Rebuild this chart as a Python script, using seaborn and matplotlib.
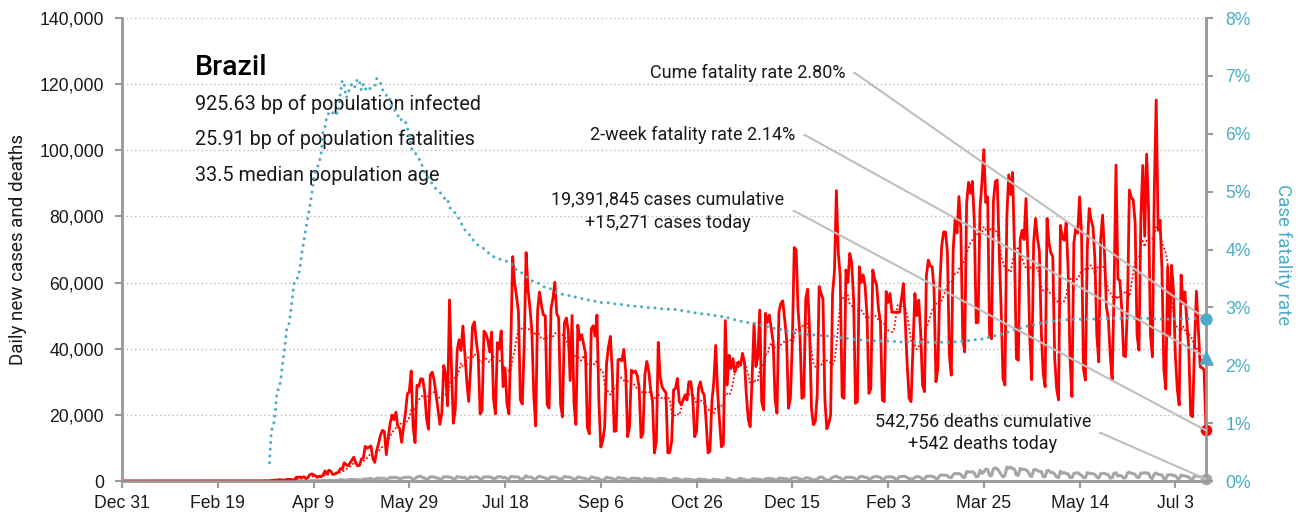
import numpy as np
import pandas as pd
import matplotlib
matplotlib.use("Agg")
import matplotlib.pyplot as plt
import matplotlib.dates as mdates
from matplotlib.ticker import FuncFormatter, MultipleLocator
import seaborn as sns

# ---------------------------------------------------------------- data
country = "Brazil"
stat_lines = [
    "925.63 bp of population infected",
    "25.91 bp of population fatalities",
    "33.5 median population age",
]
first_day = "2019-12-31"
tick_step_days = 50

total_cases = 19391845
cases_today = 15271
total_deaths = 542756
deaths_today = 542
cume_cfr_pct = 2.80
two_week_cfr_pct = 2.14

# daily new cases, Dec 31 2019 .. Feb 29 2020
cases_pre_march = """
0
0 0 0 0 0 0 0 0 0 0 0 0 0 0 0 0 0 0 0 0 0 0 0 0 0 0 0 0 0 0 0
0 0 0 0 0 0 0 0 0 0 0 0 0 0 0 0 0 0 0 0 0 0 0 0 0 1 0 0 1
"""

# daily new cases, one row per week (Sun..Sat) starting Sun Mar 1 2020,
# last row: Sun Jul 18 and Mon Jul 19 2021
cases_weekly = """
0 0 0 1 4 5 6
6 5 9 18 25 21 44
79 34 57 137 193 283 224
418 345 310 232 482 502 487
352 323 1138 1119 1208 1012 1304
770 1031 1873 2136 1922 1546 1089
1442 1261 1832 3058 2105 3257 2976
1996 2089 2336 2678 3735 3503 5514
4970 4613 5385 6276 7218 5514 4588
4726 6633 6935 10503 9888 10222 10611
6760 5632 9258 11385 13944 15305 14919
7938 13140 17408 19951 18508 20803 16508
15813 11687 16324 20599 26417 26928 33274
16409 11598 28936 28633 30925 30830 27075
18912 15654 32091 32913 30412 25982 21704
17110 20647 34918 32188 22765 54771 34666
17459 21432 39436 42725 39483 46860 38693
30476 24052 33846 46712 48105 42223 37923
20229 21486 45305 44571 42619 39023 45048
24831 20286 41857 39924 45403 28532 34177
23529 20257 41008 67860 59961 55891 51147
24578 23284 40816 69074 57837 52383 45392
25800 16641 51603 57152 53139 50230 49970
23010 22048 52160 55155 60091 50644 49274
23101 19373 47784 49298 45323 30355 50032
23421 17078 47134 42659 44235 41350 38620
16158 14279 45961 46934 43773 50163 24062
10273 12215 16137 35500 40557 43718 33057
15000 15155 36653 36820 36303 39797 33057
13400 16389 33536 32817 33281 31911 28378
13155 14318 32058 36157 33413 27750 24062
8456 11946 41906 31553 28500 27444 26749
8500 8600 12000 27500 28000 31000 24000
23000 24500 26000 24500 30000 30000 25000
13400 15000 28000 30000 27000 26000 18000
8500 9000 24000 30000 41000 27000 18000
10300 11000 48500 29000 38000 34000 37000
33000 34600 36000 35000 38600 36000 26000
18600 16400 31000 47700 34600 37600 51700
24000 21500 50700 48000 50200 46000 42000
24600 20500 51000 53700 54500 49000 43000
22000 25000 42000 70600 69800 51700 44000
25000 25500 55000 58000 46000 22000 17000
18000 26000 58800 56800 55000 24600 15800
17300 20000 56600 63400 87800 69000 62000
25500 25000 63800 60000 68800 66000 55000
23500 24000 64800 60000 62300 59000 50000
26500 28000 63800 61000 59300 52000 48000
24500 24000 57300 54000 56700 51000 51000
51000 51000 51000 55000 59700 48000 35000
25000 24000 40000 56700 50000 54700 45000
29000 27000 62000 66800 65000 64800 58000
30000 34000 59000 71000 75300 75300 69000
38000 32000 70000 79000 75000 86000 76000
43000 39000 83900 90300 87000 90600 79000
47800 48000 82500 90000 100200 84200 85900
44300 43000 84500 90600 91000 70000 52700
31000 29000 80000 92600 86600 93300 70000
37000 36500 73000 75800 73000 85400 67600
42900 30600 72000 79400 73500 69400 45000
32500 28500 79400 72000 69000 67800 37000
28000 24500 77300 73400 72800 78300 64000
37000 25500 72000 76300 75000 85900 75000
34000 30500 70000 82400 79000 76800 67000
44000 36000 73000 80400 69000 52700 49000
38000 30500 58000 95500 61000 60700 52000
37900 37600 52900 88000 85700 85000 78000
44000 39600 80000 95400 74000 98800 82300
44200 37500 87800 115228 75800 78900 64100
33700 27800 64900 43800 65200 57700 38000
27800 23000 62300 53700 57200 48100 40000
20000 19400 41000 57400 45600 34400 34300
33500 15271
"""

# daily new deaths, Dec 31 2019 .. Feb 29 2020
deaths_pre_march = """
0
0 0 0 0 0 0 0 0 0 0 0 0 0 0 0 0 0 0 0 0 0 0 0 0 0 0 0 0 0 0 0
0 0 0 0 0 0 0 0 0 0 0 0 0 0 0 0 0 0 0 0 0 0 0 0 0 0 0 0 0
"""

# daily new deaths, same weekly rows as the cases
deaths_weekly = """
0 0 0 0 0 0 0
0 0 0 0 0 0 0
0 0 1 3 2 5 7
7 9 12 11 20 15 22
22 23 42 40 58 60 73
54 67 114 133 141 115 68
99 105 204 204 188 217 206
115 113 166 165 407 357 346
189 338 474 449 435 428 421
275 296 600 615 610 751 730
496 396 881 749 844 824 816
485 674 1179 888 1188 1001 965
653 807 1039 1086 1156 1124 956
480 623 1262 1349 1473 1005 904
525 679 1272 1274 1239 909 892
612 627 1282 1269 1238 1206 1022
641 654 1374 1185 1141 990 1109
552 692 1280 1038 1252 1290 1091
602 620 1254 1223 1220 1214 1071
631 733 1300 1233 1322 921 1163
716 632 1367 1284 1311 1156 1211
555 614 921 1595 1129 1212 1088
541 561 1154 1437 1226 1079 905
572 703 1274 1175 1262 1060 709
620 684 1352 1212 1204 1054 892
494 565 1271 1085 984 855 758
366 553 1215 1184 834 874 682
310 310 447 1136 983 899 814
415 381 1090 967 829 858 739
363 377 836 869 831 729 728
317 335 863 729 733 729 599
363 318 804 734 754 709 543
309 201 309 713 754 716 461
230 270 571 566 497 432 374
271 263 586 510 496 452 407
190 231 254 610 400 467 333
183 192 201 908 728 582 350
263 216 676 754 611 480 290
228 302 630 691 638 493 553
272 317 697 755 694 660 654
313 363 842 848 770 682 686
279 433 964 936 1092 785 726
404 514 968 963 827 457 314
339 563 1111 1224 1074 462 314
293 600 1171 1242 1524 1035 1004
469 542 1110 1131 1151 1050 1002
551 452 1183 1382 1316 1096 1054
592 627 1214 1283 1386 1206 1055
595 628 1209 1240 1232 1239 1038
479 615 1350 1330 1452 1351 1026
683 641 639 1085 1340 1324 1019
527 639 1386 1428 1541 1337 1275
721 778 1641 1910 1699 1800 1555
1054 987 1972 2286 2207 2233 1997
1127 1057 2841 2736 2724 2815 2438
1259 1383 3251 2244 2777 3650 3438
1656 1607 3668 3950 3673 2922 1987
1240 1623 4195 3829 4249 3693 3593
1803 1738 3808 3459 3560 3305 2929
1657 1347 3321 3472 3157 2914 2865
1305 1279 3120 3163 2527 2595 2044
1202 1024 2966 2311 2550 2202 2165
1024 1000 2311 2383 2494 2087 1689
1036 975 2517 2345 2245 2196 1987
1140 884 2173 2311 2342 2013 1937
865 969 2346 2507 1454 1689 1519
873 1010 2378 2693 2344 2202 2037
1129 1056 2468 2311 2504 2392 2301
1025 739 2081 2392 2032 1909 1847
739 618 1893 1857 1926 1648 1595
830 695 1780 1595 1524 1378 1148
574 595 1476 1593 1347 1324 1069
544 542
"""


def parse(*blocks):
    return np.array(" ".join(blocks).split(), dtype=float)


cases = parse(cases_pre_march, cases_weekly)
deaths = parse(deaths_pre_march, deaths_weekly)
dates = pd.date_range(first_day, periods=len(cases), freq="D")
if len(cases) != len(deaths):
    raise ValueError("case and death series differ in length")

df = pd.DataFrame({"date": dates, "cases": cases, "deaths": deaths})
df["cases_7d"] = df["cases"].rolling(7, min_periods=1).mean()
cum_cases = df["cases"].cumsum()
cum_deaths = df["deaths"].cumsum()
df["cfr"] = (cum_deaths / cum_cases * 100).where(cum_deaths > 0)
last_day = df["date"].iloc[-1]
last_x = mdates.date2num(last_day)

# ---------------------------------------------------------------- style
RED = "#FF0000"
GRAY = "#A6A6A6"
BLUE = "#4BACC6"
LEADER = "#BFBFBF"
SPINE = "#9A9A9A"
INK = "#1A1A1A"
TEXT_FONT = ["Roboto", "DejaVu Sans"]
TICK_FONT = "Liberation Sans"

sns.set_theme(style="white")
plt.rcParams["font.family"] = TEXT_FONT

W, H = 1312, 522
fig = plt.figure(figsize=(W / 100, H / 100), dpi=100)
ax = fig.add_axes([122 / W, 1 - 481 / H, (1206 - 122) / W, (481 - 18) / H])
ax2 = ax.twinx()

# ---------------------------------------------------------------- lines
sns.lineplot(data=df, x="date", y="deaths", ax=ax, color=GRAY,
             linewidth=2.2, zorder=2)
sns.lineplot(data=df, x="date", y="cases_7d", ax=ax, color=RED,
             linewidth=1.5, linestyle=(0, (0.01, 1.9)),
             dash_capstyle="round", zorder=3)
sns.lineplot(data=df, x="date", y="cases", ax=ax, color=RED,
             linewidth=2.0, zorder=4)
sns.lineplot(data=df, x="date", y="cfr", ax=ax2, color=BLUE,
             linewidth=2.2, linestyle=(0, (0.01, 2.2)),
             dash_capstyle="round", zorder=3)

# end-of-series markers
sns.scatterplot(x=[last_day], y=[cases_today], ax=ax, color=RED, s=70,
                linewidth=0, clip_on=False, zorder=6)
sns.scatterplot(x=[last_day], y=[deaths_today], ax=ax, color=GRAY, s=70,
                linewidth=0, clip_on=False, zorder=6)
sns.scatterplot(x=[last_day], y=[cume_cfr_pct], ax=ax2, color=BLUE, s=80,
                linewidth=0, clip_on=False, zorder=6)
sns.scatterplot(x=[last_day], y=[two_week_cfr_pct], ax=ax2, color=BLUE,
                marker="^", s=110, linewidth=0, clip_on=False, zorder=6)

# ---------------------------------------------------------------- axes
ax.set_xlim(dates[0], last_day)
ax.set_ylim(0, 140000)
ax2.set_ylim(0, 8)

ax.set_xticks(pd.date_range(dates[0], last_day, freq=f"{tick_step_days}D"))
ax.xaxis.set_major_formatter(mdates.DateFormatter("%b %-d"))
ax.yaxis.set_major_locator(MultipleLocator(20000))
ax.yaxis.set_major_formatter(FuncFormatter(lambda v, _: f"{v:,.0f}"))
ax2.yaxis.set_major_locator(MultipleLocator(1))
ax2.yaxis.set_major_formatter(FuncFormatter(lambda v, _: f"{v:.0f}%"))

ax.grid(False)
ax2.grid(False)
ax.yaxis.grid(True, linestyle=(0, (1, 2)), color="#BDBDBD", linewidth=1)

for a in (ax, ax2):
    a.spines["top"].set_visible(False)
    for side in ("left", "right", "bottom"):
        a.spines[side].set_color(SPINE)
        a.spines[side].set_linewidth(1.8)

ax.tick_params(axis="x", length=5, width=1.5, color=SPINE, pad=5,
               labelsize=12.7, labelcolor=INK, labelfontfamily=TICK_FONT,
               bottom=True)
ax.tick_params(axis="y", length=5, width=1.5, color=SPINE, pad=8,
               labelsize=12.7, labelcolor=INK, labelfontfamily=TICK_FONT,
               left=True)
ax2.tick_params(axis="y", length=5, width=1.5, color=SPINE, pad=9,
                labelsize=12.7, labelcolor=BLUE, labelfontfamily=TICK_FONT,
                right=True)

ax.set_xlabel("")
ax.set_ylabel("Daily new cases and deaths", fontsize=13.5, color=INK,
              ha="center", va="center", rotation_mode="anchor")
ax.yaxis.set_label_coords(-0.096, 0.5)
ax2.set_ylabel("Case fatality rate", fontsize=13.5, color=BLUE, rotation=270,
               ha="center", va="center", rotation_mode="anchor")
ax2.yaxis.set_label_coords(1.071, 0.488)

# ---------------------------------------------------------------- text
ax.text(0.0673, 0.894, country, transform=ax.transAxes, fontsize=20.5,
        fontweight="medium", color="#000000", ha="left", va="center")
for i, line in enumerate(stat_lines):
    ax.text(0.0673, 0.814 - i * 0.0767, line, transform=ax.transAxes,
            fontsize=14.2, color=INK, ha="left", va="center")

leader = dict(arrowstyle="-", color=LEADER, lw=1.5, shrinkA=4, shrinkB=0,
              connectionstyle="arc,angleA=0,armA=10,angleB=0,armB=0,rad=0")
NOTE_SIZE = 13

ax2.annotate(f"Cume fatality rate {cume_cfr_pct:.2f}%",
             xy=(last_x, cume_cfr_pct), xytext=(0.667, 0.881),
             textcoords="axes fraction", ha="right", va="center",
             fontsize=NOTE_SIZE, color=INK,
             arrowprops={**leader, "relpos": (1, 0.5)}, zorder=5)
ax2.annotate(f"2-week fatality rate {two_week_cfr_pct:.2f}%",
             xy=(last_x, two_week_cfr_pct), xytext=(0.621, 0.747),
             textcoords="axes fraction", ha="right", va="center",
             fontsize=NOTE_SIZE, color=INK,
             arrowprops={**leader, "relpos": (1, 0.5)}, zorder=5)
ax2.annotate(f"{total_cases:,} cases cumulative\n+{cases_today:,} cases today",
             xy=(last_x, cases_today), xycoords=ax.transData,
             xytext=(0.5037, 0.583), textcoords="axes fraction",
             ha="center", va="center", multialignment="center",
             linespacing=1.35, fontsize=NOTE_SIZE, color=INK,
             arrowprops={**leader, "relpos": (1, 0.5)}, zorder=5)
ax2.annotate(f"{total_deaths:,} deaths cumulative\n+{deaths_today:,} deaths today",
             xy=(last_x, deaths_today), xycoords=ax.transData,
             xytext=(0.794, 0.1037), textcoords="axes fraction",
             ha="center", va="center", multialignment="center",
             linespacing=1.35, fontsize=NOTE_SIZE, color=INK,
             arrowprops={**leader, "relpos": (1, 0.5)}, zorder=5)

fig.savefig("out.png", dpi=100, facecolor="white")
